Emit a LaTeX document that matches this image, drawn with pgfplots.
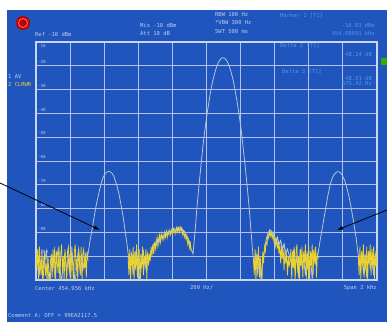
\documentclass[border=0pt]{standalone}
\usepackage{pgfplots}
\pgfplotsset{compat=1.18}
\usepackage{fontspec}
\setmainfont{DejaVu Sans}
\newfontfamily\scr{DejaVu Sans Mono}
\usetikzlibrary{arrows.meta}
\definecolor{scrblue}{HTML}{1F55BD}
\definecolor{gridc}{HTML}{B2C2EE}
\definecolor{framec}{HTML}{C8D6F6}
\definecolor{trgray}{HTML}{B4C8C8}
\definecolor{tryel}{HTML}{EED22C}
\definecolor{txt}{HTML}{C0CCEA}
\definecolor{cyantxt}{HTML}{4C9AE6}
\pgfplotstableread{
f db
-1000 -104
-990 -99
-980 -107
-970 -101
-960 -110
-950 -103
-940 -98
-930 -106
-920 -112
-910 -104
-900 -100
-890 -108
-880 -102
-870 -97
-860 -105
-850 -111
-840 -103
-830 -99
-820 -106
-810 -101
-800 -109
-790 -98
-780 -104
-770 -112
-760 -102
-750 -97
-740 -107
-730 -100
-720 -105
-710 -99
-700 -101
-695 -99
-684 -94
-672 -89
-660 -84
-648 -79
-636 -75
-625 -71.5
-616 -69
-607 -67
-598 -65.7
-590 -65
-581 -64.5
-572 -64.4
-563 -64.6
-554 -65.2
-545 -66.2
-537 -67.8
-525 -70.5
-513 -74
-501 -78.5
-490 -83
-478 -89
-466 -95
-458 -100
-450 -104
-440 -99
-430 -108
-420 -101
-410 -97
-400 -106
-390 -111
-380 -102
-370 -98
-360 -105
-350 -100
-340 -103
-331 -99
-320 -97
-310 -95
-300 -96
-290 -93
-280 -94
-270 -92
-260 -91.5
-250 -92
-240 -90
-230 -90.5
-220 -89.5
-210 -90
-200 -89
-190 -88.5
-180 -89.5
-170 -88
-160 -88.5
-150 -87.8
-140 -89
-130 -89.5
-120 -91
-110 -92.5
-100 -94
-90 -97
-79 -99
-67 -89.5
-56 -79.5
-44 -70.2
-32 -61.6
-21 -53.8
-9 -46.7
3 -40.4
15 -34.8
26 -30.0
38 -25.9
50 -22.6
62 -19.9
73 -18.1
85 -17.0
97 -16.6
109 -17.0
121 -18.1
132 -19.9
144 -22.6
156 -25.9
167 -30.0
179 -34.8
191 -40.4
203 -46.7
214 -53.8
226 -61.6
238 -70.2
250 -79.5
261 -89.5
273 -100
280 -104
290 -99
300 -107
310 -101
320 -110
330 -100
340 -98
350 -93
361 -90.5
372 -89
384 -89.8
395 -91
405 -93.5
415 -92
425 -95
435 -93.5
445 -97
455 -95
465 -99
475 -97
490 -101
500 -103
510 -98
520 -106
530 -100
540 -109
550 -97
560 -104
570 -101
580 -108
590 -98
600 -105
610 -100
620 -110
630 -99
640 -103
654 -99
665 -94
677 -89
689 -84
701 -79
712 -74.5
724 -70.5
733 -68
742 -66.5
751 -65.5
760 -64.8
768 -64.5
777 -64.5
786 -65
795 -65.8
803 -67
812 -68.5
824 -71.5
836 -75
848 -79.5
859 -84
868 -88
877 -92
883 -95.5
889 -99
900 -103
910 -99
920 -107
930 -101
940 -109
950 -98
960 -105
970 -100
980 -108
990 -99
1000 -104
}\graytrace
\pgfplotstableread{
f db
-1000 -98
-995 -106
-990 -97
-985 -110
-980 -96
-975 -104
-970 -108
-965 -97
-960 -112
-955 -101
-950 -99
-945 -108
-940 -103
-935 -111
-930 -100
-925 -106
-920 -113
-915 -102
-910 -99
-905 -109
-900 -97
-895 -105
-890 -96
-885 -111
-880 -98
-875 -103
-870 -107
-865 -96
-860 -112
-855 -99
-850 -95
-845 -106
-840 -100
-835 -110
-830 -97
-825 -104
-820 -111
-815 -98
-810 -96
-805 -107
-800 -99
-795 -109
-790 -96
-785 -104
-780 -112
-775 -98
-770 -95
-765 -106
-760 -101
-755 -110
-750 -97
-745 -103
-740 -108
-735 -96
-730 -111
-725 -99
-720 -97
-715 -105
-710 -100
-705 -109
-700 -98
-695 -102
}\yelA
\pgfplotstableread{
f db
-460 -100
-455 -108
-450 -97
-445 -111
-440 -99
-435 -104
-430 -96
-425 -110
-420 -98
-415 -106
-410 -95
-405 -109
-400 -101
-395 -97
-390 -112
-385 -99
-380 -105
-375 -96
-370 -108
-365 -100
-360 -103
-355 -97
-350 -110
-345 -98
-340 -104
-335 -99
-330 -102
-325 -96
-320 -100
-315 -95
-310 -99
-305 -94
-300 -97
-295 -93
-290 -96
-285 -92
-280 -95
-275 -91
-270 -94
-265 -90.5
-260 -93
-255 -91
-250 -93
-245 -90
-240 -92
-235 -89.5
-230 -92
-225 -89.5
-220 -91
-215 -89
-210 -91
-205 -89
-200 -90.5
-195 -88.5
-190 -90
-185 -88.5
-180 -90.5
-175 -88
-170 -89.5
-165 -88
-160 -90
-155 -87.8
-150 -89.5
-145 -88.5
-140 -91
-135 -89.5
-130 -92
-125 -90.5
-120 -93
-115 -91.5
-110 -95
-105 -93
-100 -96.5
-95 -94.5
-90 -98
}\yelB
\pgfplotstableread{
f db
275 -101
280 -108
285 -97
290 -111
295 -99
300 -104
305 -96
310 -109
315 -100
320 -106
325 -112
330 -98
335 -103
340 -96
345 -98
350 -94
355 -95
360 -91
365 -92.5
370 -89.5
375 -91.5
380 -90
385 -92.5
390 -90.5
395 -93.5
400 -91.5
405 -95.5
410 -92.5
415 -97
420 -93.5
425 -99
430 -95
435 -103
440 -96
445 -101
450 -97
455 -106
460 -98
465 -103
470 -99
475 -108
480 -100
485 -104
490 -102
495 -97
500 -110
505 -98
510 -105
515 -96
520 -111
525 -99
530 -95
535 -107
540 -100
545 -112
550 -97
555 -104
560 -96
565 -109
570 -98
575 -103
580 -95
585 -110
590 -99
595 -106
600 -96
605 -111
610 -98
615 -104
620 -95
625 -108
630 -97
635 -103
640 -96
645 -109
650 -99
655 -101
}\yelC
\pgfplotstableread{
f db
890 -100
895 -108
900 -96
905 -110
910 -98
915 -104
920 -95
925 -109
930 -99
935 -106
940 -96
945 -111
950 -98
955 -103
960 -95
965 -108
970 -97
975 -105
980 -96
985 -110
990 -99
995 -104
1000 -97
}\yelD
\begin{document}
\begin{tikzpicture}[x=1bp,y=1bp]
\useasboundingbox (0,0) rectangle (387,322);
\fill[white] (0,0) rectangle (387,322);
\fill[scrblue] (7,0) rectangle (387,312);
\begin{axis}[at={(36bp,42bp)}, anchor=south west, scale only axis,
  width=341bp, height=238bp,
  xmin=-1000, xmax=1000, ymin=-110, ymax=-10,
  xtick={-800,-600,...,800}, ytick={-100,-90,...,-20},
  xticklabels={}, yticklabels={}, major tick length=0pt,
  grid=major, grid style={gridc, line width=0.9bp},
  axis line style={framec, line width=1.1bp}]
\addplot[trgray, line width=0.8bp] table[x=f,y=db] {\graytrace};
\addplot[tryel, line width=0.75bp] table[x=f,y=db] {\yelA};
\addplot[tryel, line width=0.75bp] table[x=f,y=db] {\yelB};
\addplot[tryel, line width=0.75bp] table[x=f,y=db] {\yelC};
\addplot[tryel, line width=0.75bp] table[x=f,y=db] {\yelD};
\addplot[trgray, line width=0.8bp, restrict x to domain=-300:-95] table[x=f,y=db] {\graytrace};
\addplot[trgray, line width=0.8bp, restrict x to domain=345:470] table[x=f,y=db] {\graytrace};
\end{axis}
% logo
\fill[red!75!black] (23,299) circle (7);
\draw[red!55!white, line width=0.8bp] (23,299) circle (4.5);
% header texts
\begin{scope}[every node/.style={inner sep=0pt, text=txt, font=\scr\fontsize{5.5}{6}\selectfont}]
\node[anchor=west] at (35,288) {Ref  -10 dBm};
\node[anchor=west] at (140,297) {Mix  -10 dBm};
\node[anchor=west] at (140,289) {Att   10 dB};
\node[anchor=west] at (215,307) {RBW   100 Hz};
\node[anchor=west] at (215,299) {*VBW  300 Hz};
\node[anchor=west] at (215,290) {SWT   500 ms};
\node[anchor=west] at (8,245) {1 AV};
\node[anchor=west, text=tryel] at (8,237) {2 CLRWR};
\node[anchor=west] at (35,34) {Center 454.956 kHz};
\node[anchor=west] at (190,34) {200 Hz/};
\node[anchor=east] at (377,34) {Span 2 kHz};
\node[anchor=west] at (8,6) {Comment A: OFF = 99EA2117.5};
\end{scope}
\begin{scope}[every node/.style={inner sep=0pt, text=cyantxt, font=\scr\fontsize{5.5}{6}\selectfont}]
\node[anchor=west] at (280,306) {Marker 1 [T1]};
\node[anchor=east] at (375,297) {-16.83 dBm};
\node[anchor=east] at (375,289) {454.09691 kHz};
\node[anchor=west] at (280,276) {Delta 2 [T1]};
\node[anchor=east] at (372,268) {-48.24 dB};
\node[anchor=west] at (282,250) {Delta 3 [T1]};
\node[anchor=east] at (372,244) {-48.01 dB};
\node[anchor=east] at (372,238) {675.42 Hz};
\end{scope}
% y labels inside grid
\begin{scope}[every node/.style={inner sep=0pt, text=txt, font=\scr\fontsize{4.2}{5}\selectfont, anchor=south west}]
\node[anchor=north west] at (38,278) {-10};
\node at (38,258) {-20};
\node at (38,234.4) {-30};
\node at (38,210.6) {-40};
\node at (38,186.8) {-50};
\node at (38,163) {-60};
\node at (38,139.2) {-70};
\node at (38,115.4) {-80};
\node at (38,91.6) {-90};
\node at (38,67.8) {-100};
\end{scope}
\fill[green!60!black!80!yellow] (381,257) rectangle (387,264);
% arrows
\draw[black, line width=0.8bp, -{Latex[length=6bp,width=4bp]}] (0,139) -- (100,92);
\draw[black, line width=0.8bp, -{Latex[length=6bp,width=4bp]}] (387,112) -- (337,92);
\end{tikzpicture}
\end{document}
